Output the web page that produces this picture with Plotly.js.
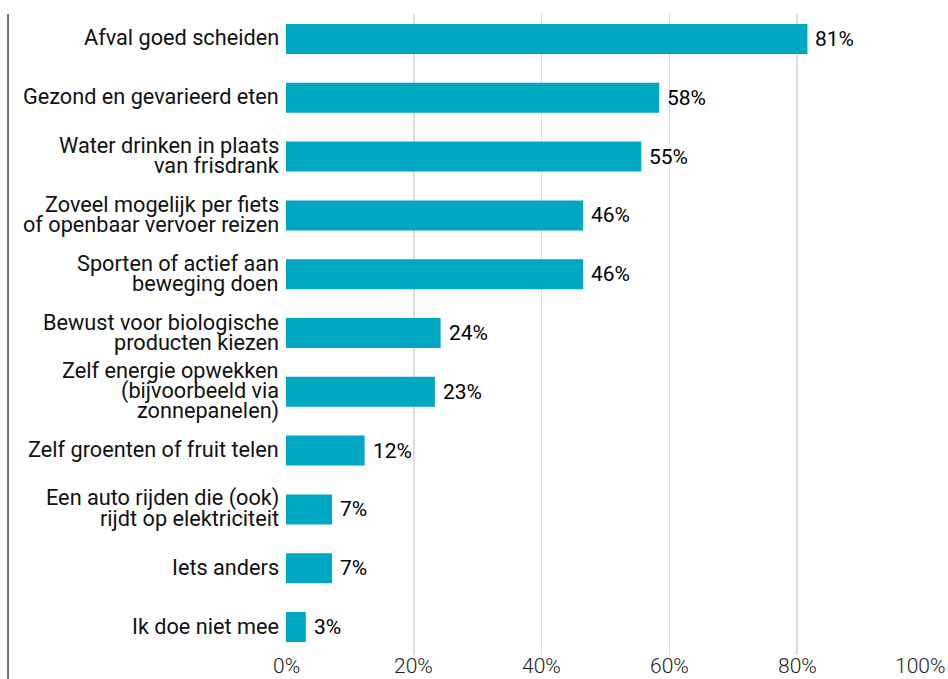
<!DOCTYPE html>
<html>
<head>
<meta charset="utf-8">
<script src="https://cdn.plot.ly/plotly-3.0.1.min.js"></script>
<style>html,body{margin:0;padding:0;background:#fff;}#chart{width:948px;height:679px;}</style>
</head>
<body>
<div id="chart"></div>
<script>
const categories = [
  "Afval goed scheiden",
  "Gezond en gevarieerd eten",
  "Water drinken in plaats<br>van frisdrank",
  "Zoveel mogelijk per fiets<br>of openbaar vervoer reizen",
  "Sporten of actief aan<br>beweging doen",
  "Bewust voor biologische<br>producten kiezen",
  "Zelf energie opwekken<br>(bijvoorbeeld via<br>zonnepanelen)",
  "Zelf groenten of fruit telen",
  "Een auto rijden die (ook)<br>rijdt op elektriciteit",
  "Iets anders",
  "Ik doe niet mee"
];
const values = [81.6, 58.4, 55.6, 46.5, 46.5, 24.2, 23.3, 12.3, 7.2, 7.2, 3.1];
const labels = ["81%", "58%", "55%", "46%", "46%", "24%", "23%", "12%", "7%", "7%", "3%"];
const xTicks = [0, 20, 40, 60, 80, 100];
const xTickLabels = ["0%", "20%", "40%", "60%", "80%", "100%"];

const FONT = "Roboto, 'DejaVu Sans', sans-serif";
const LINE_GAP = 20;

const trace = {
  type: "bar",
  orientation: "h",
  y: categories,
  x: values,
  marker: {color: "#00a7c1", line: {width: 0}},
  width: 0.51,
  hoverinfo: "skip"
};

const annotations = [];
categories.forEach((c, i) => {
  annotations.push({
    x: values[i], y: c, xref: "x", yref: "y",
    text: labels[i], showarrow: false,
    xanchor: "left", yanchor: "middle", xshift: 6, yshift: 0,
    font: {family: FONT, size: 21, color: "#000"}
  });
  const lines = c.split("<br>");
  lines.forEach((ln, j) => {
    annotations.push({
      x: 0, y: c, xref: "paper", yref: "y",
      text: ln, showarrow: false,
      xanchor: "right", yanchor: "middle", xshift: -5,
      yshift: ((lines.length - 1) / 2 - j) * LINE_GAP + 1,
      font: {family: FONT, size: 21.7, color: "#111"}
    });
  });
});
xTicks.forEach((t, k) => {
  const last = k === xTicks.length - 1;
  annotations.push({
    x: t, y: 0, xref: "x", yref: "paper",
    text: xTickLabels[k], showarrow: false, borderpad: 0,
    xanchor: last ? "right" : "center", xshift: last ? 21 : 0,
    yanchor: "top", yshift: 2,
    font: {family: FONT, size: 21, color: "#222", weight: 300}
  });
});

const layout = {
  width: 948, height: 679,
  margin: {l: 286, r: 23, t: 14, b: 24, pad: 0},
  paper_bgcolor: "#fff", plot_bgcolor: "#fff",
  showlegend: false,
  xaxis: {
    range: [0, 100],
    tickvals: xTicks,
    showgrid: true, gridcolor: "#dddddd", gridwidth: 1.5,
    zeroline: false, showline: false,
    ticks: "", showticklabels: false,
    fixedrange: true
  },
  yaxis: {
    type: "category",
    range: [10.476, -0.425],
    showgrid: false, zeroline: false, showline: false,
    showticklabels: false, ticks: "",
    fixedrange: true
  },
  annotations: annotations,
  shapes: [{
    type: "line", xref: "paper", yref: "paper",
    x0: -0.435, x1: -0.435, y0: 1.0, y1: -0.05,
    line: {color: "#444", width: 1.5}
  }]
};

Plotly.newPlot("chart", [trace], layout, {displayModeBar: false, staticPlot: true});
</script>
</body>
</html>
